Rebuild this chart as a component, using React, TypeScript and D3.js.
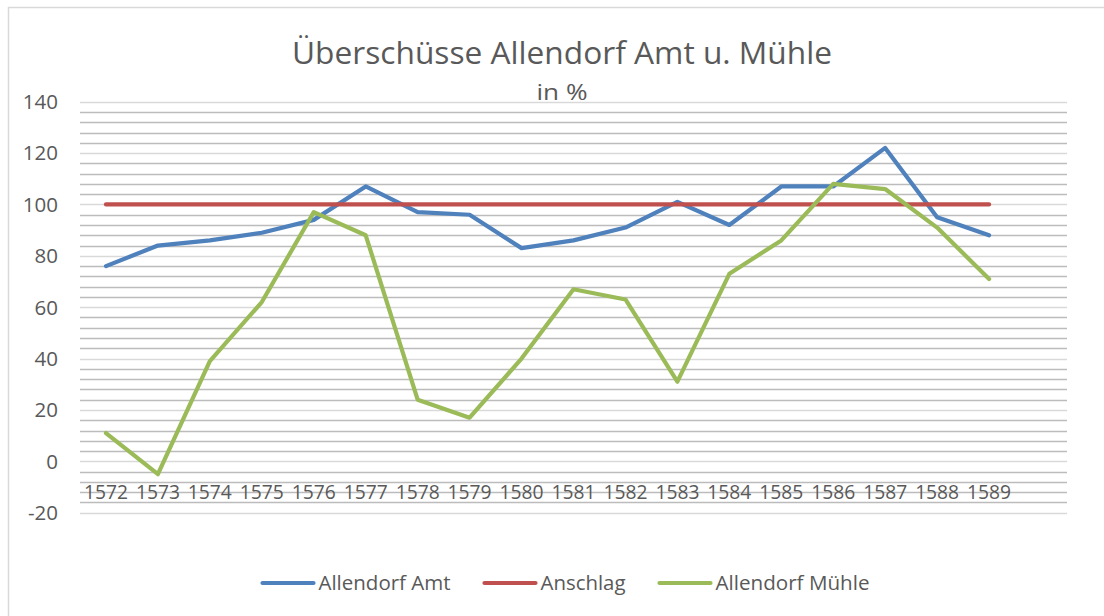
import * as d3 from "d3";

const years = [
  "1572", "1573", "1574", "1575", "1576", "1577", "1578", "1579", "1580",
  "1581", "1582", "1583", "1584", "1585", "1586", "1587", "1588", "1589",
];
// Excel left an empty 19th category at the end
const categories = [...years, ""];

const amt = [76, 84, 86, 89, 94, 107, 97, 96, 83, 86, 91, 101, 92, 107, 107, 122, 95, 88];
const anschlag = [100, 100, 100, 100, 100, 100, 100, 100, 100, 100, 100, 100, 100, 100, 100, 100, 100, 100];
const muehle = [11, -5, 39, 62, 97, 88, 24, 17, 40, 67, 63, 31, 73, 86, 108, 106, 91, 71];

const yTicks = [-20, 0, 20, 40, 60, 80, 100, 120, 140];

const series = [
  { name: "Allendorf Amt", values: amt, color: "#4f81bd", legendWidth: 132 },
  { name: "Anschlag", values: anschlag, color: "#c0504d", legendWidth: 85 },
  { name: "Allendorf Mühle", values: muehle, color: "#9bbb59", legendWidth: 154 },
];

const W = 1104;
const H = 616;
const FONT = "'Open Sans', 'Noto Sans', sans-serif";
const TEXT = "#595959";

export default function App() {
  const x = d3.scaleBand<string>().domain(categories).range([80, 1067]).padding(0);
  const y = d3.scaleLinear().domain([-20, 140]).range([512.7, 101.7]);
  const cx = (i: number) => (x(years[i]) ?? 0) + x.bandwidth() / 2;

  const line = d3
    .line<number>()
    .x((_, i) => cx(i))
    .y((d) => y(d));

  const minor = d3.range(-20, 141, 4);
  const snap = (v: number) => Math.round(y(v)) + 0.5;

  // legend layout
  const lineLen = 51;
  const gap = 5;
  const itemGap = 34;
  const total = series.reduce((s, d) => s + lineLen + gap + d.legendWidth, 0) + itemGap * (series.length - 1);
  let lx = 566 - total / 2;
  const legendItems = series.map((s) => {
    const start = lx;
    lx += lineLen + gap + s.legendWidth + itemGap;
    return { ...s, start };
  });

  return (
    <svg
      width={W}
      height={H}
      style={{ position: "absolute", left: 0, top: 0, background: "#fff" }}
      fontFamily={FONT}
    >
      <rect x={8.5} y={7.5} width={W} height={H} fill="#fff" stroke="#d9d9d9" strokeWidth={1.5} />

      {/* title */}
      <text x={562} y={64} textAnchor="middle" fontSize={31} fill={TEXT} textLength={540} lengthAdjust="spacingAndGlyphs">
        Überschüsse Allendorf Amt u. Mühle
      </text>
      <text x={562} y={100} textAnchor="middle" fontSize={21.5} fill={TEXT} textLength={51} lengthAdjust="spacingAndGlyphs">
        in %
      </text>

      {/* gridlines */}
      {minor.map((v) => (
        <line
          key={v}
          x1={80}
          x2={1067}
          y1={snap(v)}
          y2={snap(v)}
          stroke={v % 20 === 0 ? "#d9d9d9" : "#bcbcbc"}
          strokeWidth={1.3}
        />
      ))}

      {/* y tick labels */}
      {yTicks.map((v) => (
        <text key={v} x={58} y={y(v)} dy="0.36em" textAnchor="end" fontSize={20.5} fill={TEXT}>
          {v}
        </text>
      ))}

      {/* x tick labels */}
      {years.map((c, i) => (
        <text key={c} x={cx(i)} y={499} textAnchor="middle" fontSize={20.5} fill={TEXT} textLength={44} lengthAdjust="spacingAndGlyphs">
          {c}
        </text>
      ))}

      {/* series */}
      {series.map((s) => (
        <path
          key={s.name}
          d={line(s.values) ?? ""}
          fill="none"
          stroke={s.color}
          strokeWidth={4.2}
          strokeLinejoin="round"
          strokeLinecap="round"
        />
      ))}

      {/* legend */}
      {legendItems.map((s) => (
        <g key={s.name}>
          <line
            x1={s.start}
            x2={s.start + lineLen}
            y1={583}
            y2={583}
            stroke={s.color}
            strokeWidth={4.2}
            strokeLinecap="round"
          />
          <text
            x={s.start + lineLen + gap}
            y={590}
            fontSize={20}
            fill={TEXT}
            textLength={s.legendWidth}
            lengthAdjust="spacingAndGlyphs"
          >
            {s.name}
          </text>
        </g>
      ))}
    </svg>
  );
}
